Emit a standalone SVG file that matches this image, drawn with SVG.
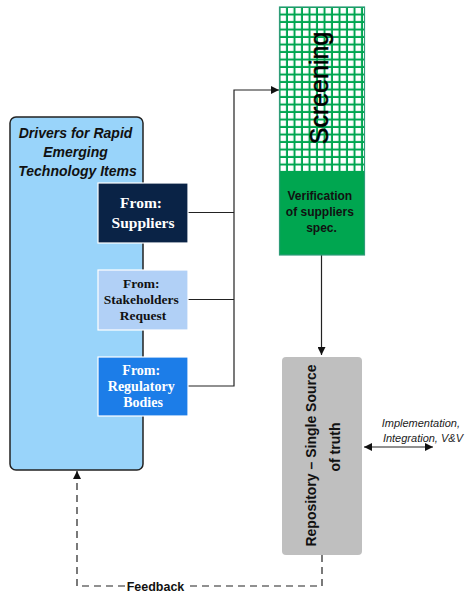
<svg xmlns="http://www.w3.org/2000/svg" width="466" height="595" viewBox="0 0 466 595">
  <style>
    .sans { font-family: "Liberation Sans", Arial, sans-serif; }
    .serif { font-family: "Liberation Serif", "Times New Roman", serif; font-weight: bold; }
    .conn { fill: none; stroke: #222; stroke-width: 1.2; }
    .src { stroke: #fff; stroke-width: 1.2; }
  </style>
  <defs>
    <marker id="arrow" viewBox="0 0 10 10" refX="10" refY="5" markerWidth="8" markerHeight="8" markerUnits="userSpaceOnUse" orient="auto-start-reverse">
      <path d="M0,0 L10,5 L0,10 z" fill="#111"/>
    </marker>
    <pattern id="grid" patternUnits="userSpaceOnUse" x="280.5" y="8" width="7.5" height="7.5">
      <rect width="7.5" height="7.5" fill="#00A650"/>
      <rect width="5.5" height="5.5" fill="#fff"/>
    </pattern>
  </defs>

  <rect width="466" height="595" fill="#fff"/>

  <!-- drivers container -->
  <g id="drivers">
    <rect x="10" y="117" width="133" height="353" rx="6" fill="#99D4FA" stroke="#222" stroke-width="1.5"/>
    <text class="sans" font-size="14" font-weight="bold" font-style="italic" text-anchor="middle" fill="#111">
      <tspan x="77.5" y="138">Drivers for Rapid</tspan>
      <tspan x="77.5" y="157">Emerging</tspan>
      <tspan x="77.5" y="176">Technology Items</tspan>
    </text>
  </g>

  <!-- connectors -->
  <g id="connectors">
    <path class="conn" d="M188,212.5 H234 M188,299.5 H234 M188,386 H234 V90 H279" marker-end="url(#arrow)"/>
    <path class="conn" d="M321.5,255 V355" marker-end="url(#arrow)"/>
    <path class="conn" d="M364,447 H433" marker-start="url(#arrow)" marker-end="url(#arrow)"/>
    <path class="conn" d="M322,555 V586 H77 V471" stroke-dasharray="7 5" marker-end="url(#arrow)"/>
    <rect x="126" y="578" width="59" height="14" fill="#fff"/>
    <text class="sans" x="155.5" y="590.5" font-size="12.5" font-weight="bold" text-anchor="middle" fill="#111">Feedback</text>
  </g>

  <g id="suppliers">
    <rect class="src" x="98" y="183" width="90" height="60" fill="#0A2346"/>
    <text class="serif" font-size="15.5" text-anchor="middle" fill="#fff">
      <tspan x="143" y="208">From:</tspan>
      <tspan x="143" y="228">Suppliers</tspan>
    </text>
  </g>

  <g id="stakeholders">
    <rect class="src" x="98" y="270" width="90" height="60" fill="#B1D0F6"/>
    <text class="serif" font-size="13.5" text-anchor="middle" fill="#111">
      <tspan x="143" y="288">From:</tspan>
      <tspan x="143" y="304">Stakeholders</tspan>
      <tspan x="143" y="320">Request</tspan>
    </text>
  </g>

  <g id="regulatory">
    <rect class="src" x="98" y="357" width="90" height="59" fill="#1C7DE8"/>
    <text class="serif" font-size="14" text-anchor="middle" fill="#fff">
      <tspan x="143" y="375">From:</tspan>
      <tspan x="143" y="391">Regulatory</tspan>
      <tspan x="143" y="407">Bodies</tspan>
    </text>
  </g>

  <g id="screening">
    <rect x="279.5" y="7" width="85" height="164" fill="url(#grid)"/>
    <rect x="279.5" y="171" width="85" height="84" fill="#00A650"/>
    <rect x="279.5" y="7" width="85" height="248" fill="none" stroke="#2E9C78" stroke-width="1.2"/>
    <text class="sans" font-size="25" text-anchor="middle" fill="#000" stroke="#000" stroke-width="0.5" transform="translate(328,88) rotate(-90)">Screening</text>
    <text class="sans" font-size="12" font-weight="bold" text-anchor="middle" fill="#111">
      <tspan x="321.5" y="200">Verification</tspan>
      <tspan x="321.5" y="216">of suppliers</tspan>
      <tspan x="321.5" y="232">spec.</tspan>
    </text>
  </g>

  <g id="repository">
    <rect x="282" y="357" width="80" height="198" rx="4" fill="#BFBFBF"/>
    <text class="sans" font-size="14" font-weight="bold" text-anchor="middle" fill="#111" transform="translate(316,455.5) rotate(-90)">Repository – Single Source</text>
    <text class="sans" font-size="14" font-weight="bold" text-anchor="middle" fill="#111" transform="translate(340,447) rotate(-90)">of truth</text>
  </g>

  <g id="downstream-label">
    <text class="sans" font-size="11" font-style="italic" text-anchor="end" fill="#222">
      <tspan x="463" y="427">Implementation,</tspan>
      <tspan x="463" y="442">Integration, V&amp;V</tspan>
    </text>
  </g>
</svg>
